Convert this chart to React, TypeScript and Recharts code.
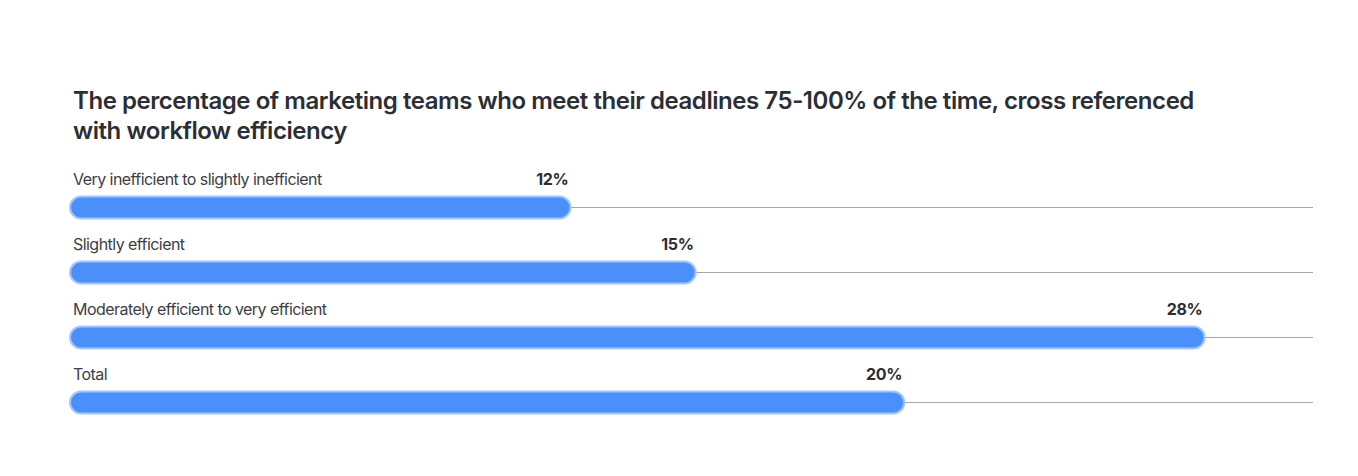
import React from 'react';
import { BarChart, Bar, XAxis, YAxis, LabelList } from 'recharts';

const categories = [
  'Very inefficient to slightly inefficient',
  'Slightly efficient',
  'Moderately efficient to very efficient',
  'Total',
];
// bar lengths as drawn in the picture
const values = [12, 15, 27.2, 20];
const valueLabels = ['12%', '15%', '28%', '20%'];

const data = categories.map((name, i) => ({ name, value: values[i], label: valueLabels[i] }));

const FONT = 'Inter, "Noto Sans", sans-serif';

const PillBar = (props: any) => {
  const { x, y, width, height } = props;
  const r = height / 2;
  return (
    <rect
      x={x}
      y={y}
      width={width}
      height={height}
      rx={r}
      ry={r}
      fill="#4a8ffa"
      stroke="#a3c6ff"
      strokeWidth={2}
    />
  );
};

const Track = (props: any) => {
  const { x, y, width, height } = props;
  const cy = y + height / 2;
  return <line x1={x} x2={x + width} y1={cy} y2={cy} stroke="#a4a7ae" strokeWidth={1} />;
};

const NameLabel = (props: any) => {
  const { x, y, value } = props;
  return (
    <text
      x={x + 3}
      y={y - 16}
      fill="#3b3e46"
      fontSize={16}
      fontFamily={FONT}
      letterSpacing={-0.55}
      dominantBaseline="middle"
    >
      {value}
    </text>
  );
};

const ValueLabel = (props: any) => {
  const { x, y, width, value } = props;
  return (
    <text
      x={x + width - 2}
      y={y - 16}
      fill="#2b2e35"
      fontSize={16}
      fontWeight={700}
      fontFamily={FONT}
      letterSpacing={-0.3}
      textAnchor="end"
      dominantBaseline="middle"
    >
      {value}
    </text>
  );
};

const App: React.FC = () => {
  return (
    <div style={{ position: 'absolute', left: 0, top: 0, width: 1358, height: 476, background: '#fff' }}>
      <div
        style={{
          position: 'absolute',
          left: 73,
          top: 86,
          width: 1200,
          fontFamily: FONT,
          fontSize: 24,
          fontWeight: 600,
          lineHeight: '30px',
          color: '#2b2e35',
          letterSpacing: '-0.45px',
        }}
      >
        The percentage of marketing teams who meet their deadlines 75-100% of the time, cross referenced
        <br />
        with workflow efficiency
      </div>
      <BarChart
        width={1358}
        height={476}
        data={data}
        layout="vertical"
        margin={{ top: 174.5, right: 45, bottom: 41.5, left: 70 }}
        barSize={22}
      >
        <XAxis type="number" domain={[0, 29.8]} hide />
        <YAxis type="category" dataKey="name" hide />
        <Bar
          dataKey="value"
          shape={<PillBar />}
          background={(p: any) => <Track {...p} />}
          isAnimationActive={false}
        >
          <LabelList dataKey="name" content={<NameLabel />} />
          <LabelList dataKey="label" content={<ValueLabel />} />
        </Bar>
      </BarChart>
    </div>
  );
};

export default App;
